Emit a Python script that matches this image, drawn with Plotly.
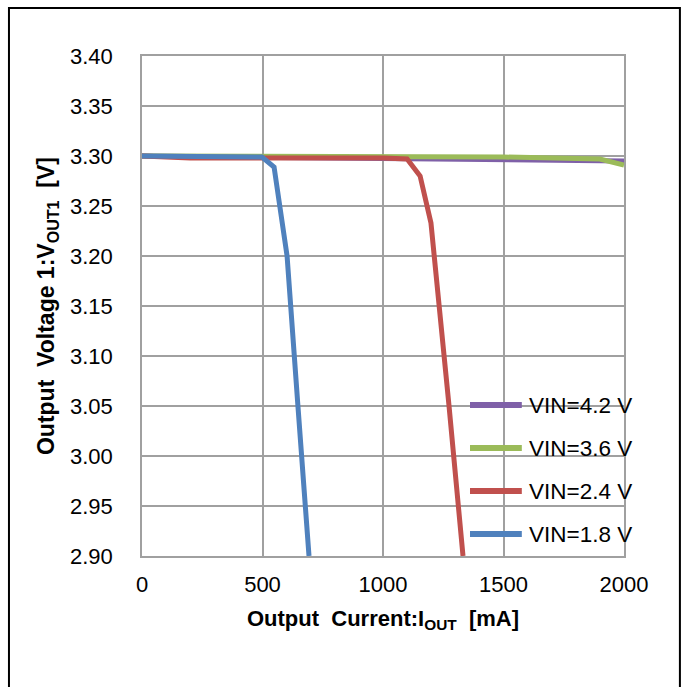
import plotly.graph_objects as go

# data
x_42 = [0, 500, 1000, 1500, 1900, 2000]
y_42 = [3.300, 3.299, 3.298, 3.297, 3.296, 3.295]
x_36 = [0, 500, 1000, 1500, 1900, 2000]
y_36 = [3.300, 3.300, 3.299, 3.299, 3.297, 3.291]
x_24 = [0, 200, 1000, 1100, 1154, 1199, 1274, 1332]
y_24 = [3.300, 3.298, 3.298, 3.297, 3.280, 3.233, 3.050, 2.900]
x_18 = [0, 300, 498, 548, 602, 647, 693]
y_18 = [3.300, 3.300, 3.299, 3.289, 3.200, 3.050, 2.900]
names = ["VIN=4.2 V", "VIN=3.6 V", "VIN=2.4 V", "VIN=1.8 V"]
colors = ["#7F60A8", "#9BBB59", "#C0504D", "#4F81BD"]

series = [(x_42, y_42), (x_36, y_36), (x_24, y_24), (x_18, y_18)]

fig = go.Figure()
for (xs, ys), n, c in zip(series, names, colors):
    fig.add_trace(go.Scatter(x=xs, y=ys, mode="lines", name=n,
                             line=dict(color=c, width=5), showlegend=False))

# legend drawn in paper coordinates (inside the plot, lower right)
leg_y = [0.302, 0.216, 0.130, 0.044]
shapes = [dict(type="rect", xref="paper", yref="paper",
               x0=-0.276, x1=1.116, y0=-0.3, y1=1.096,
               line=dict(color="black", width=2), layer="below")]
annotations = []
for n, c, ly in zip(names, colors, leg_y):
    shapes.append(dict(type="line", xref="paper", yref="paper",
                       x0=0.6805, x1=0.788, y0=ly, y1=ly,
                       line=dict(color=c, width=6), layer="above"))
    annotations.append(dict(xref="paper", yref="paper", x=0.799, y=ly,
                            xanchor="left", yanchor="middle", showarrow=False,
                            text=n, font=dict(size=22.5, color="black")))

font = "Liberation Sans, Arial, sans-serif"
fig.update_layout(
    width=687, height=687,
    margin=dict(l=142, r=63, t=56, b=131),
    paper_bgcolor="white", plot_bgcolor="white",
    font=dict(family=font, size=22, color="black"),
    showlegend=False,
    xaxis=dict(range=[0, 2000], tickvals=[0, 500, 1000, 1500, 2000],
               showgrid=True, gridcolor="#A0A0A0", gridwidth=1.5,
               showline=True, linecolor="#A0A0A0", linewidth=1.5, mirror=True,
               zeroline=False, ticks="", ticklabelstandoff=8,
               title=dict(text="<b>Output  Current:I<sub>OUT</sub>  [mA]</b>",
                          font=dict(size=22), standoff=14)),
    yaxis=dict(range=[2.90, 3.40], tickvals=[2.90 + 0.05 * k for k in range(11)],
               tickformat=".2f",
               showgrid=True, gridcolor="#A0A0A0", gridwidth=1.5,
               showline=True, linecolor="#A0A0A0", linewidth=1.5, mirror=True,
               zeroline=False, ticks="", ticklabelstandoff=23,
               title=dict(text="<b>Output  Voltage 1:V<sub>OUT1</sub>  [V]</b>",
                          font=dict(size=23), standoff=9)),
    shapes=shapes,
    annotations=annotations,
)

fig.write_html("out.html", config={"displayModeBar": False},
               post_script="document.body.style.margin='0';")
